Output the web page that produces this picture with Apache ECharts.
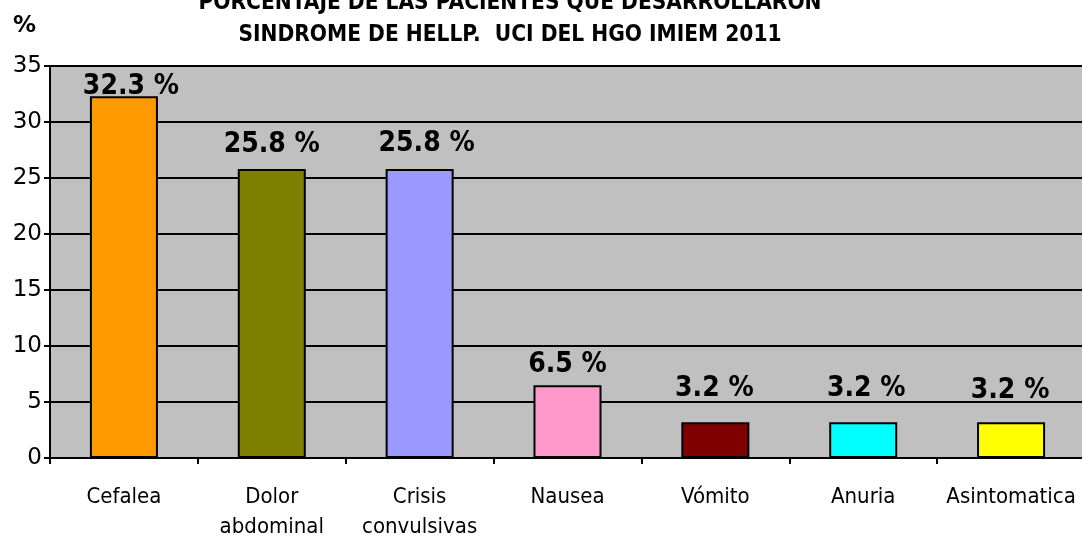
<!DOCTYPE html>
<html>
<head>
<meta charset="utf-8">
<script src="https://cdn.jsdelivr.net/npm/echarts@6/dist/echarts.min.js"></script>
<style>
  html, body { margin: 0; padding: 0; background: #fff; }
  #chart { width: 1082px; height: 536px; }
</style>
</head>
<body>
<div id="chart"></div>
<script>
// data
const categories = ['Cefalea', 'Dolor\nabdominal', 'Crisis\nconvulsivas', 'Nausea', 'Vómito', 'Anuria', 'Asintomatica'];
const percentages = [32.3, 25.8, 25.8, 6.5, 3.2, 3.2, 3.2];
const barColors = ['#FF9900', '#808000', '#9999FF', '#FF99CC', '#800000', '#00FFFF', '#FFFF00'];
const yTicks = { min: 0, max: 35, step: 5 };

// the value labels were hand-placed in the original, nudge them the same way
const labelNudge = [[7, 4], [0, -10], [7, -11], [0, -6], [-1, -19], [3, -19], [-1, -17]];

const chart = echarts.init(document.getElementById('chart'));
const narrow = '"DejaVu Sans Condensed", "DejaVu Sans", sans-serif';
const wide = '"DejaVu Sans", sans-serif';

chart.setOption({
  animation: false,
  title: {
    text: 'PORCENTAJE DE LAS PACIENTES QUE DESARROLLARON\nSINDROME DE HELLP.  UCI DEL HGO IMIEM 2011',
    left: 505,
    top: -18,
    textAlign: 'center',
    textStyle: { fontFamily: narrow, fontWeight: 'bold', fontSize: 22.5, lineHeight: 32, color: '#000' }
  },
  grid: {
    left: 50, right: -3, top: 66, bottom: 78,
    outerBoundsMode: 'none',
    containLabel: false,
    show: true, backgroundColor: '#C0C0C0', borderWidth: 0
  },
  xAxis: {
    type: 'category',
    data: categories,
    axisLine: { lineStyle: { color: '#000', width: 2 } },
    axisTick: { show: true, length: 6, lineStyle: { color: '#000', width: 2 } },
    axisLabel: { color: '#000', fontFamily: narrow, fontSize: 22, lineHeight: 30, margin: 24, interval: 0 }
  },
  yAxis: {
    type: 'value',
    min: yTicks.min, max: yTicks.max, interval: yTicks.step,
    name: '%',
    nameLocation: 'end',
    nameGap: 28,
    nameTextStyle: { color: '#000', fontFamily: wide, fontWeight: 'bold', fontSize: 23, align: 'right', padding: [0, 14, 0, 0] },
    axisLine: { show: true, lineStyle: { color: '#000', width: 2 } },
    axisTick: { show: true, length: 6, lineStyle: { color: '#000', width: 2 } },
    splitLine: { lineStyle: { color: '#000', width: 2 } },
    axisLabel: { color: '#000', fontFamily: wide, fontSize: 23, margin: 8 }
  },
  series: [{
    type: 'bar',
    data: percentages.map((v, i) => ({
      value: v,
      itemStyle: { color: barColors[i] },
      label: { offset: labelNudge[i] }
    })),
    barWidth: '46%',
    itemStyle: { borderColor: '#000', borderWidth: 2 },
    label: {
      show: true,
      position: 'top',
      distance: 0,
      formatter: p => p.value + ' %',
      color: '#000',
      fontFamily: narrow,
      fontWeight: 'bold',
      fontSize: 28
    }
  }]
});
</script>
</body>
</html>
